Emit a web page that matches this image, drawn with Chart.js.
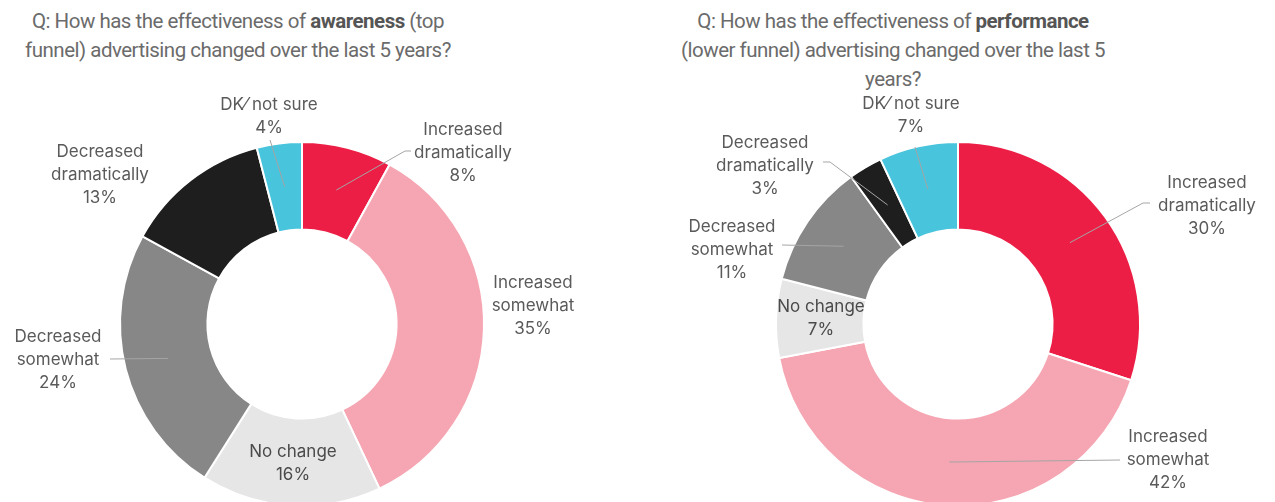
<!DOCTYPE html>
<html>
<head>
<meta charset="utf-8">
<script src="https://cdn.jsdelivr.net/npm/chart.js@4"></script>
<style>
  html, body { margin: 0; padding: 0; background: #fff; overflow: hidden; }
  body { width: 1275px; height: 502px; position: relative; font-family: Inter, 'Noto Sans', sans-serif; }
  .title { position: absolute; top: 7px; text-align: center; color: #6b6b6b; font-family: Roboto, sans-serif; font-size: 20.5px; letter-spacing: -0.5px; line-height: 29px; white-space: nowrap; }
  .title b { color: #555; font-weight: 700; }
  canvas { position: absolute; top: 0; }
</style>
</head>
<body>
<div class="title" style="left:0; width:476px;">Q: How has the effectiveness of <b>awareness</b> (top<br>funnel) advertising changed over the last 5 years?</div>
<div class="title" style="left:643px; width:500px;">Q: How has the effectiveness of <b>performance</b><br>(lower funnel) advertising changed over the last 5<br>years?</div>
<div style="position:absolute;left:0;top:0;width:637px;height:502px;"><canvas id="awarenessChart"></canvas></div>
<div style="position:absolute;left:637px;top:0;width:638px;height:502px;"><canvas id="performanceChart"></canvas></div>
<script>
// Answer categories, clockwise from 12 o'clock
const categories = ['Increased dramatically', 'Increased somewhat', 'No change', 'Decreased somewhat', 'Decreased dramatically', 'DK\u2044 not sure'];

// Share of respondents (%)
const awarenessValues = [8, 35, 16, 24, 13, 4];
const performanceValues = [30, 42, 7, 11, 3, 7];

const sliceColors = ['#ed1e45', '#f5a6b2', '#e6e6e6', '#878787', '#1e1e1e', '#48c4dc'];

// Label placement relative to the donut centre (first line), plus optional leader points
const awarenessSpots = [
  { x: 161, y: -194, leader: [[103, -173], [109, -173]] },
  { x: 231, y: -41 },
  { x: -9, y: 128, dark: true },
  { x: -244, y: 13, leader: [[-192, 35]] },
  { x: -202, y: -172 },
  { x: -33, y: -219, leader: [[-32, -184]] },
];
const performanceSpots = [
  { x: 249, y: -141, leader: [[185, -121], [192, -121]] },
  { x: 210, y: 113, leader: [[162, 136]] },
  { x: -137, y: -17, dark: true },
  { x: -226, y: -97, leader: [[-176, -79]] },
  { x: -193, y: -181, leader: [[-128, -162], [-135, -162]] },
  { x: -47, y: -220, leader: [[-43, -177]] },
];

function labelLines(name) {
  // Increased/Decreased labels wrap onto two lines
  if (name.startsWith('Increased') || name.startsWith('Decreased')) return name.split(' ');
  return [name];
}

const sliceLabels = {
  id: 'sliceLabels',
  afterDatasetsDraw(chart, args, opts) {
    const ctx = chart.ctx;
    const meta = chart.getDatasetMeta(0);
    const values = chart.data.datasets[0].data;
    ctx.save();
    meta.data.forEach((arc, i) => {
      const spot = opts.spots[i];
      const cx = arc.x, cy = arc.y;
      if (spot.leader) {
        const p = arc.getCenterPoint();
        ctx.beginPath();
        ctx.moveTo(p.x, p.y);
        spot.leader.forEach(pt => ctx.lineTo(cx + pt[0], cy + pt[1]));
        ctx.strokeStyle = '#a5a5a5';
        ctx.lineWidth = 1;
        ctx.stroke();
      }
      const lines = labelLines(chart.data.labels[i]).concat(values[i] + '%');
      ctx.font = '17px Inter, "Noto Sans", sans-serif';
      ctx.fillStyle = spot.dark ? '#4a4a4a' : '#5a5a5a';
      ctx.textAlign = 'center';
      ctx.textBaseline = 'middle';
      lines.forEach((t, k) => ctx.fillText(t, cx + spot.x, cy + spot.y + k * 23));
    });
    ctx.restore();
  }
};

function makeDonut(id, values, spots, padding) {
  const ctx = document.getElementById(id).getContext('2d');
  return new Chart(ctx, {
    type: 'doughnut',
    data: {
      labels: categories,
      datasets: [{
        data: values,
        backgroundColor: sliceColors,
        borderColor: '#ffffff',
        borderWidth: 2,
      }],
    },
    options: {
      responsive: true,
      maintainAspectRatio: false,
      animation: false,
      radius: 182,
      cutout: 92,
      layout: { padding: padding },
      plugins: {
        legend: { display: false },
        tooltip: { enabled: false },
        sliceLabels: { spots: spots },
      },
    },
    plugins: [sliceLabels],
  });
}

makeDonut('awarenessChart', awarenessValues, awarenessSpots, { left: 0, right: 33, top: 146, bottom: 0 });
makeDonut('performanceChart', performanceValues, performanceSpots, { left: 4, right: 0, top: 146, bottom: 0 });
</script>
</body>
</html>
